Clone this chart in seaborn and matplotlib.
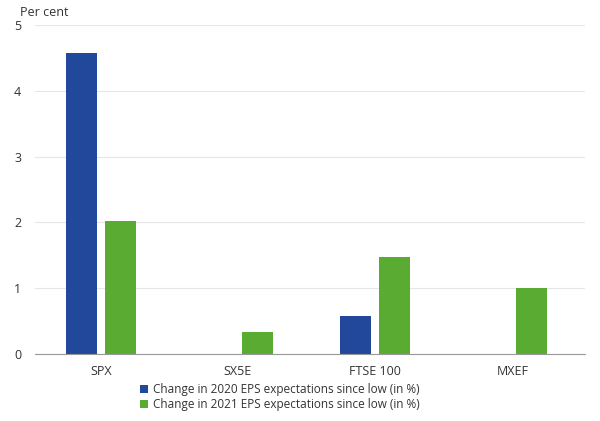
import matplotlib
matplotlib.use("Agg")
import matplotlib.pyplot as plt
import seaborn as sns
import pandas as pd

categories = ["SPX", "SX5E", "FTSE 100", "MXEF"]
eps_2020 = [4.58, 0.0, 0.58, 0.0]
eps_2021 = [2.02, 0.33, 1.47, 1.0]
series_names = ["Change in 2020 EPS expectations since low (in %)",
                "Change in 2021 EPS expectations since low (in %)"]

df = pd.DataFrame({
    "index": categories * 2,
    "value": eps_2020 + eps_2021,
    "series": [series_names[0]] * 4 + [series_names[1]] * 4,
})

plt.rcParams["font.family"] = "Open Sans"
fig = plt.figure(figsize=(6, 4.21), dpi=100)
ax = fig.add_axes([35 / 600, 1 - 354 / 421, 550 / 600, 329 / 421])

sns.barplot(data=df, x="index", y="value", hue="series", ax=ax,
            palette=["#22489c", "#5aab32"], width=0.57, gap=0.21,
            saturation=1, legend=True)

ax.set_xlim(-0.48, 3.53)
ax.set_ylim(0, 5)
ax.set_yticks(range(6))
ax.yaxis.grid(True, color="#e6e6e6", lw=0.8)
ax.set_axisbelow(True)
for s in ["top", "right", "left"]:
    ax.spines[s].set_visible(False)
ax.spines["bottom"].set_color("#999999")
ax.tick_params(axis="both", length=0, labelsize=9, colors="#333333")
ax.tick_params(axis="x", pad=8)
ax.tick_params(axis="y", pad=10)
ax.set_xlabel("")
ax.set_ylabel("")
fig.text(20 / 600, 1 - 12 / 421, "Per cent", fontsize=9, color="#333333", va="center")

leg = ax.legend(loc="upper left", bbox_to_anchor=(0.18, -0.07), frameon=False,
                fontsize=8.5, handlelength=0.7, handleheight=0.7,
                handletextpad=0.4, labelspacing=0.2, borderpad=0)
for t in leg.get_texts():
    t.set_color("#333333")

fig.savefig("out.png", dpi=100)
